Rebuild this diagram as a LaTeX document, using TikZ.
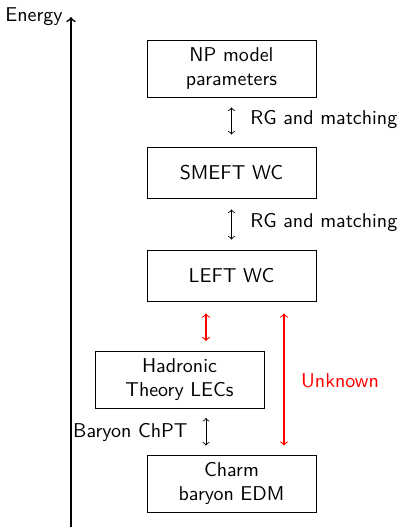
\documentclass[tikz,border=0pt]{standalone}
\usetikzlibrary{calc}
\begin{document}
\begin{tikzpicture}[x=0.5pt,y=-0.5pt,font=\sffamily,
  level/.style={draw,align=center,minimum width=84.5pt,minimum height=25.5pt,inner sep=2pt},
  tall/.style={level,minimum height=28.5pt},
  link/.style={<->,line width=0.4pt},
  redlink/.style={link,red,line width=0.55pt},
  note/.style={inner sep=0pt}]
\useasboundingbox (0,0) rectangle (398,527);

% energy axis
\coordinate (axbot) at (71,527);
\coordinate (axtop) at (71,17);
\draw[->,line width=0.8pt] (axbot) -- (axtop);
\node[note,anchor=east] (energy) at (63,17) {Energy};

% levels of description
\node[tall]  (np)    at (231.5,68.5)  {NP model\\parameters};
\node[level] (smeft) at (231.5,172.5) {SMEFT WC};
\node[level] (left)  at (231.5,275.5) {LEFT WC};
\node[tall]  (had)   at (179.5,380)   {Hadronic\\Theory LECs};
\node[tall]  (edm)   at (231.5,483.5) {Charm\\baryon EDM};

% columns for the off-centre connectors
\coordinate (c1) at (206,0);
\coordinate (c2) at (284,0);

\draw[link,shorten <=5pt,shorten >=6pt] (np) -- (smeft);
\draw[link,shorten <=5.5pt,shorten >=5pt] (smeft) -- (left);
\draw[redlink,shorten <=6pt,shorten >=5pt] (left.south -| c1) -- (had.north -| c1);
\draw[redlink,shorten <=6pt,shorten >=4.5pt] (left.south -| c2) -- (edm.north -| c2);
\draw[link,shorten <=4.5pt,shorten >=4.5pt] (had.south -| c1) -- (edm.north -| c1);

% labels
\node[note,anchor=west] (rg1) at (250,119) {RG and matching};
\node[note,anchor=west] (rg2) at (250,222) {RG and matching};
\node[note,red] (unk) at (340,381) {Unknown};
\node[note,anchor=east] (chpt) at (188,432) {Baryon ChPT};
\end{tikzpicture}
\end{document}
